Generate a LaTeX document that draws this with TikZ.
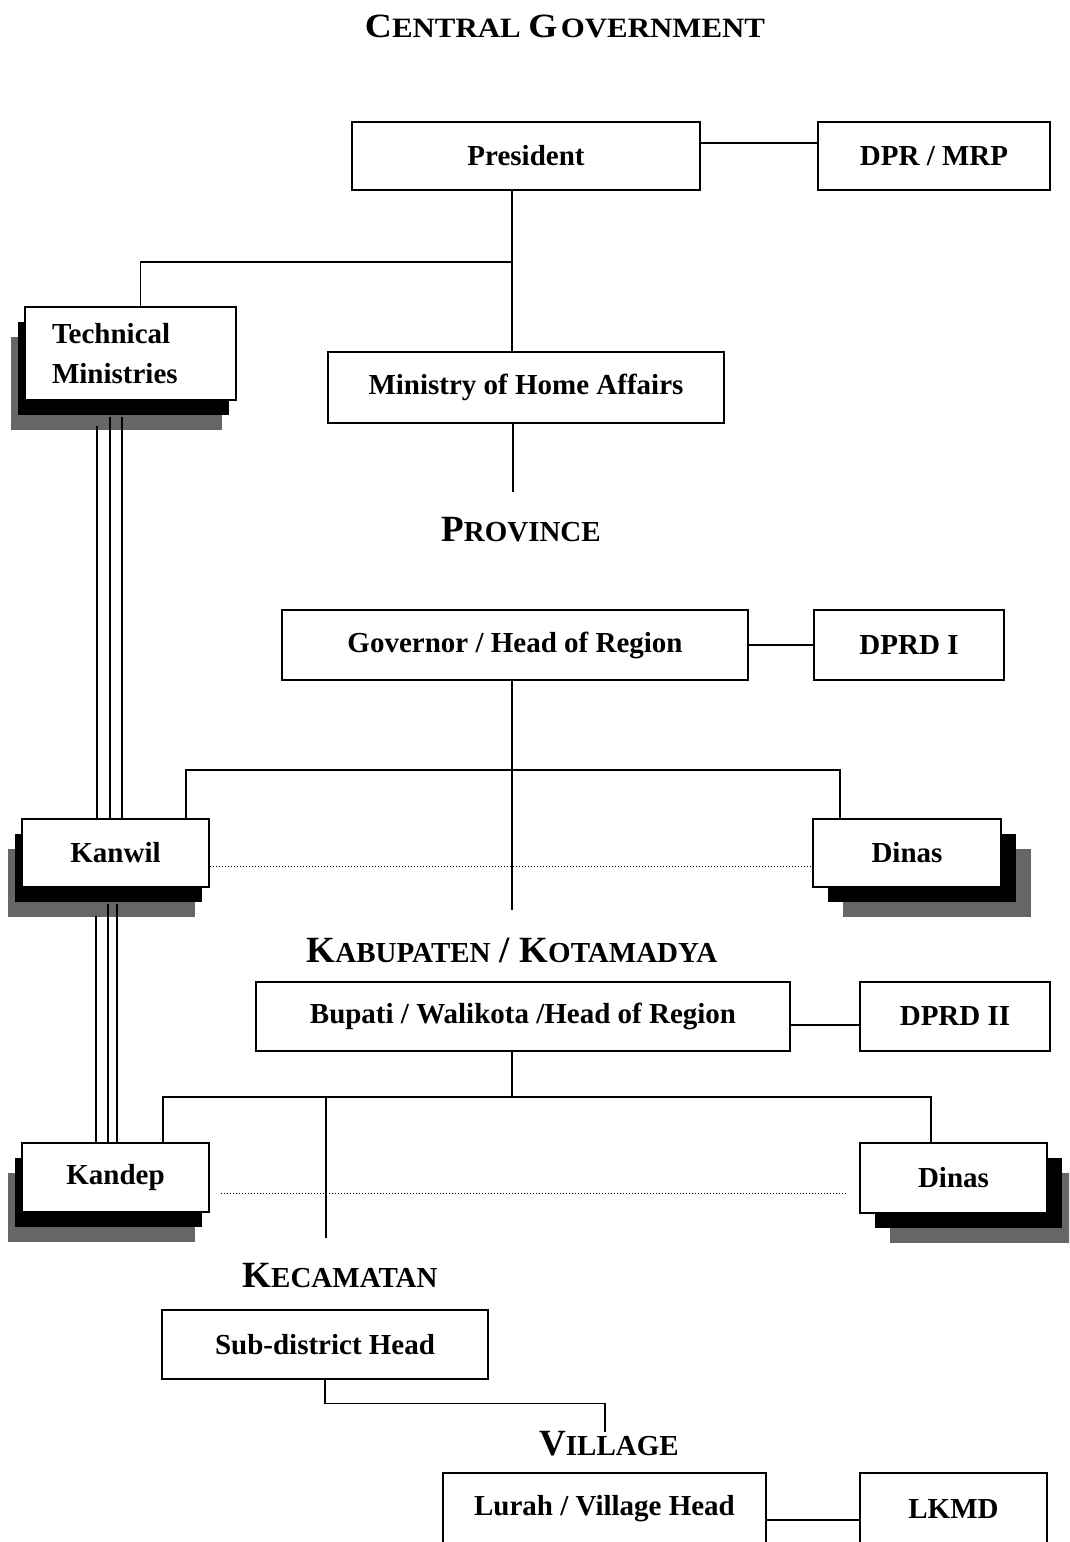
\documentclass[tikz,border=0pt]{standalone}
\usepackage{fontspec}
\setmainfont{Liberation Serif}
\usepackage{graphicx}
\usepackage{tikz}
\usetikzlibrary{shadows,positioning}
\definecolor{shadowgrey}{RGB}{102,102,102}
\tikzstyle{block} = [draw, rectangle, fill=white, line width=1.3pt, inner sep=0, font=\bfseries\fontsize{29}{40}\selectfont]
\tikzstyle{shadowL} = [general shadow={shadow xshift=-14pt, shadow yshift=-30pt, fill=shadowgrey},
                       general shadow={shadow xshift=-7pt, shadow yshift=-15pt, fill=black}]
\tikzstyle{shadowR} = [general shadow={shadow xshift=30pt, shadow yshift=-30pt, fill=shadowgrey},
                       general shadow={shadow xshift=15pt, shadow yshift=-15pt, fill=black}]
\tikzstyle{level} = [inner sep=0, anchor=base, font=\bfseries]
\tikzstyle{link} = [line width=1.3pt]
\newcommand{\capbig}[1]{{\fontsize{37}{40}\selectfont #1}}
\newcommand{\capsmall}[1]{{\fontsize{29}{32}\selectfont #1}}

\begin{document}
\begin{tikzpicture}[x=1pt, y=-1pt]
  \clip (0,0) rectangle (1069,1542);

  % level titles
  \node [level] (tcentral) at (565,37) {\resizebox{400pt}{\height}{{\fontsize{34}{36}\selectfont C}{\fontsize{28}{30}\selectfont ENTRAL }{\fontsize{34}{36}\selectfont G}\kern3pt{\fontsize{28}{30}\selectfont OVERNMENT}}};
  \node [level] (tprov) at (521,541) {\capbig{P}\capsmall{ROVINCE}};
  \node [level] (tkab) at (512,962) {\capbig{K}\capsmall{ABUPATEN}\capbig{ / K}\capsmall{OTAMADYA}};
  \node [level] (tkec) at (340,1287) {\capbig{K}\capsmall{ECAMATAN}};
  \node [level] (tvil) at (609,1455) {\capbig{V}\capsmall{ILLAGE}};

  % boxes
  \node [block, minimum width=348, minimum height=68] (pres) at (526,156) {President};
  \node [block, minimum width=232, minimum height=68] (dpr) at (934,156) {DPR / MRP};
  \node [block, shadowL, minimum width=211, minimum height=93, text width=157, align=left] (tech) at (130.5,353.5) {Technical\\Ministries};
  \node [block, minimum width=396, minimum height=71] (mha) at (526,387.5) {Ministry of Home Affairs};
  \node [block, minimum width=466, minimum height=70] (gov) at (515,645) {Governor / Head of Region};
  \node [block, minimum width=190, minimum height=70] (dprd1) at (909,645) {DPRD I};
  \node [block, shadowL, minimum width=187, minimum height=68] (kanwil) at (115.5,853) {Kanwil};
  \node [block, shadowR, minimum width=188, minimum height=68] (dinasA) at (907,853) {Dinas};
  \node [block, minimum width=534, minimum height=69] (bupati) at (523,1016.5) {Bupati / Walikota /Head of Region};
  \node [block, minimum width=190, minimum height=69] (dprd2) at (955,1016.5) {DPRD II};
  \node [block, shadowL, minimum width=187, minimum height=69] (kandep) at (115.5,1177.5) {Kandep};
  \node [block, shadowR, minimum width=187, minimum height=70] (dinasB) at (953.5,1178) {Dinas};
  \node [block, minimum width=326, minimum height=69] (subd) at (325,1344.5) {Sub-district Head};
  \node [block, minimum width=323, minimum height=72] (lurah) at (604.5,1509) {Lurah / Village Head};
  \node [block, minimum width=187, minimum height=72] (lkmd) at (953.5,1509) {LKMD};

  % joints and loose ends
  \coordinate (j1) at (512,262);
  \coordinate (provtop) at (513,492);
  \coordinate (j2) at (512,770);
  \coordinate (kabtop) at (512,910);
  \coordinate (j3) at (512,1097);
  \coordinate (kectop) at (326,1238);
  \coordinate (viltop) at (605,1432);

  % central government
  \draw [link] ([yshift=13pt]pres.east) -- ([yshift=13pt]dpr.west);
  \draw [link] ([xshift=-14pt]pres.south) -- ([xshift=-14pt]mha.north);
  \draw [link] (j1) -| ([xshift=10pt]tech.north);
  \draw [link] ([xshift=-13pt]mha.south) -- (provtop);
  \foreach \dx/\dy in {-33.5/-25,-20.5/-16,-8.5/-16}
    \draw [link] ([xshift=\dx pt, yshift=\dy pt]tech.south) -- ([xshift=\dx pt]tech.south |- kanwil.north);

  % province
  \draw [link] (gov.east) -- (dprd1.west);
  \draw [link] ([xshift=-3pt]gov.south) -- (kabtop);
  \draw [link] ([xshift=70.5pt]kanwil.north) |- (j2) -| ([xshift=-67pt]dinasA.north);
  \draw [dotted, line width=1pt] ([yshift=-13pt]kanwil.east) -- ([yshift=-13pt]kanwil.east -| dinasA.west);
  \foreach \dx/\dy in {-19.5/-28,-7.5/-16,1.5/-16}
    \draw [link] ([xshift=\dx pt, yshift=\dy pt]kanwil.south) -- ([xshift=\dx pt]kanwil.south |- kandep.north);

  % kabupaten / kotamadya
  \draw [link] ([yshift=-8.5pt]bupati.east) -- ([yshift=-8.5pt]dprd2.west);
  \draw [link] ([xshift=-11pt]bupati.south) -- (j3);
  \draw [link] ([xshift=47.5pt]kandep.north) |- (j3) -| ([xshift=-22.5pt]dinasB.north);
  \draw [link] (kectop |- j3) -- (kectop);
  \draw [dotted, line width=1pt, shorten <=11pt, shorten >=12pt] ([yshift=-15.5pt]kandep.east) -- ([yshift=-15.5pt]kandep.east -| dinasB.west);

  % kecamatan and village
  \draw [link] (subd.south) -- ++(0,24) -| (viltop);
  \draw [link] ([yshift=-11pt]lurah.east) -- ([yshift=-11pt]lkmd.west);
\end{tikzpicture}
\end{document}
